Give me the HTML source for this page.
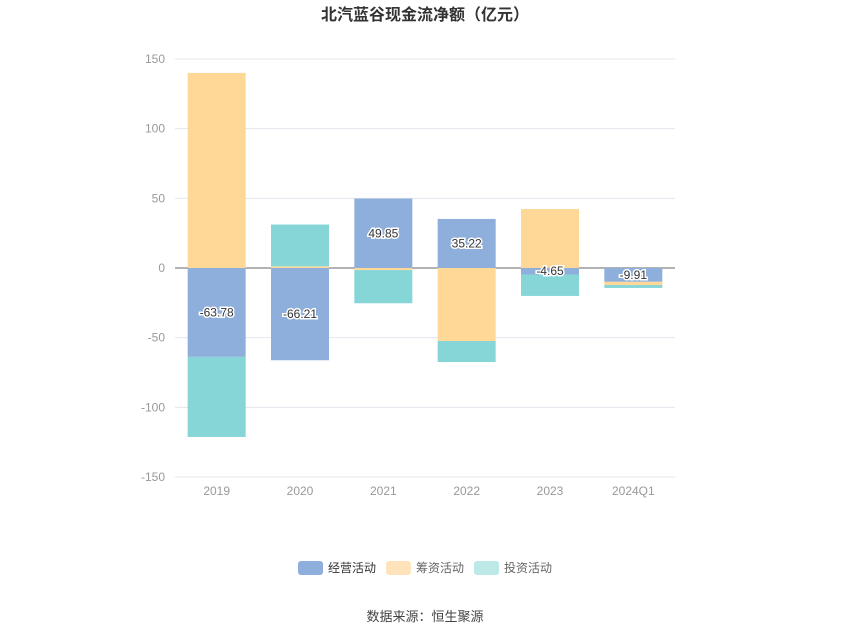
<!DOCTYPE html>
<html><head><meta charset="utf-8"><style>
body{margin:0;background:#fff;font-family:"Liberation Sans","Noto Sans CJK SC",sans-serif;}
</style></head><body>
<svg width="850" height="637" xmlns="http://www.w3.org/2000/svg" font-family="Liberation Sans, Noto Sans CJK SC, sans-serif">
<text x="425" y="20" text-anchor="middle" font-size="16" font-weight="bold" fill="#333">北汽蓝谷现金流净额（亿元）</text>
<g id="grid"></g><g id="bars"></g><g id="labels"></g>
<g>
<g><rect x="298" y="561" width="25" height="14" rx="3" fill="#8eaedb"/><text x="328" y="572" font-size="12" fill="#333">经营活动</text></g>
<g><rect x="386" y="561" width="25" height="14" rx="3" fill="#ffe4bb"/><text x="416" y="572" font-size="12" fill="#666">筹资活动</text></g>
<g><rect x="474" y="561" width="25" height="14" rx="3" fill="#bde8e8"/><text x="504" y="572" font-size="12" fill="#666">投资活动</text></g>
</g>
<text x="425" y="621" text-anchor="middle" font-size="13" fill="#444">数据来源：恒生聚源</text>
</svg>
<script>
const categories=["2019","2020","2021","2022","2023","2024Q1"];
const operating=[-63.78,-66.21,49.85,35.22,-4.65,-9.91];
const financing=[140,1.2,-1.5,-52.4,42.3,-2.3];
const investing=[-57.5,30,-23.8,-15.1,-15.4,-2.1];
const ticks=[150,100,50,0,-50,-100,-150];
const NS="http://www.w3.org/2000/svg";
const x0=175,x1=675,yTop=59,yBot=477;
const y=v=>268-v*(yBot-yTop)/300;
const bw=(x1-x0)/categories.length;
const xc=i=>x0+bw*(i+0.5);
function mk(t,a,p){const e=document.createElementNS(NS,t);for(const k in a)e.setAttribute(k,a[k]);p.appendChild(e);return e;}
const grid=document.getElementById('grid'),bars=document.getElementById('bars'),labels=document.getElementById('labels');
ticks.forEach(t=>{
 const l=mk('line',{x1:x0,x2:x1,y1:y(t),y2:y(t),stroke:t===0?'#666':'#e3e6ee','stroke-width':1},grid);
 
 
 const tx=mk('text',{x:165,y:y(t)+4,'text-anchor':'end','font-size':12,fill:'#999'},grid);
 tx.textContent=t;
 
 
});
categories.forEach((c,i)=>{
 const tx=mk('text',{x:xc(i),y:495,'text-anchor':'middle','font-size':12,fill:'#999'},grid);
 tx.textContent=c;
 
 
 let pos=0,neg=0;
 [[operating,'#8eaedb','operating'],[financing,'#ffd898','financing'],[investing,'#86d6d8','investing']].forEach(([arr,col,nm])=>{
  const v=arr[i];let a,b;
  if(v>=0){a=pos;b=pos+v;pos=b;}else{a=neg;b=neg+v;neg=b;}
  const r=mk('rect',{x:xc(i)-29,width:58,y:Math.min(y(a),y(b)),height:Math.abs(y(a)-y(b)),fill:col},bars);
  
  
 });
 const v=operating[i];
 const t=mk('text',{x:xc(i),y:(y(0)+y(v))/2+4,'text-anchor':'middle','font-size':12,fill:'#333',stroke:'#fff','stroke-width':3,'paint-order':'stroke'},labels);
 t.textContent=v.toFixed(2);
 
 
});
</script>
</body></html>
